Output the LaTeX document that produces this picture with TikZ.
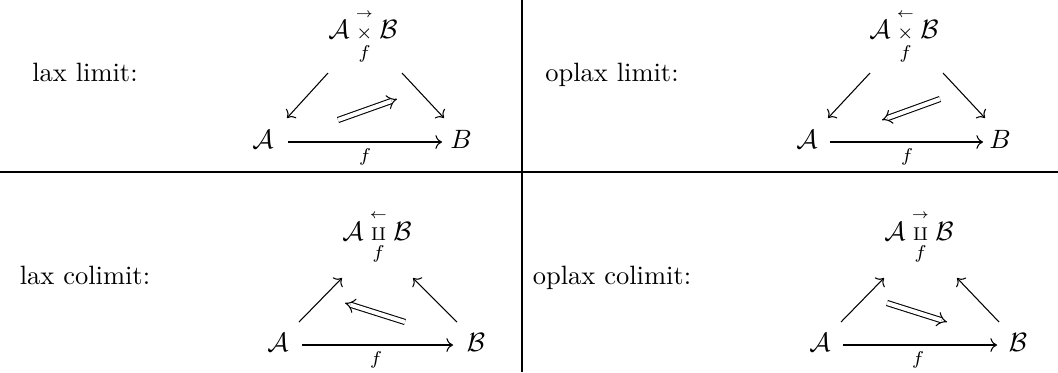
\documentclass[tikz,border=0pt]{standalone}
\usepackage{amsmath}
\usetikzlibrary{arrows.meta,calc}
\newcommand{\decop}[2]{\mathbin{\underset{\raisebox{-1pt}{$\scriptstyle f$}}{\overset{\raisebox{1.5pt}{$\scriptscriptstyle #1$}}{\scriptstyle #2}}}}
\begin{document}
\begin{tikzpicture}[x=0.3774pt,y=-0.3774pt,
  lbl/.style={anchor=base,inner sep=0pt},
  obj/.style={anchor=base,inner sep=0pt},
  mor/.style={-{Computer Modern Rightarrow},line width=0.4pt},
  twocell/.style={double equal sign distance,-{Implies},line width=0.4pt},
  rulestyle/.style={line width=0.45pt}]
\useasboundingbox (0,0) rectangle (1058,372);
% table rules
\coordinate (hl) at (0,172);
\coordinate (hr) at (1058,172);
\coordinate (vt) at (522,0);
\coordinate (vb) at (522,372);
\draw[rulestyle] (hl) -- (hr);
\draw[rulestyle] (vt) -- (vb);
% labels
\node[lbl] (l1) at (85,81) {lax limit:};
\node[lbl] (l2) at (612,81) {oplax limit:};
\node[lbl] (l3) at (85,284) {lax colimit:};
\node[lbl] (l4) at (612,284) {oplax colimit:};
% top left: lax limit
\node[obj] (tlP) at (363,38) {$\mathcal{A}\decop{\rightarrow}{\times}\mathcal{B}$};
\node[obj] (tlA) at (263,148) {$\mathcal{A}$};
\node[obj] (tlB) at (461,148) {$B$};
\node[obj] (tlf) at (365,161) {$\scriptstyle f$};
\draw[mor] ($(tlA.base)+(25,-6)$) -- ($(tlB.base)+(-19,-6)$);
\draw[mor] ($(tlP.base)+(-35,35)$) -- ($(tlA.base)+(24,-30)$);
\draw[mor] ($(tlP.base)+(39,35)$) -- ($(tlB.base)+(-17,-30)$);
\draw[twocell] ($(tlA.base)+(75,-28)$) -- ($(tlA.base)+(134,-49)$);
% top right: oplax limit
\node[obj] (trP) at (904,38) {$\mathcal{A}\decop{\leftarrow}{\times}\mathcal{B}$};
\node[obj] (trA) at (807,148) {$\mathcal{A}$};
\node[obj] (trB) at (1000,148) {$B$};
\node[obj] (trf) at (907,161) {$\scriptstyle f$};
\draw[mor] ($(trA.base)+(23,-6)$) -- ($(trB.base)+(-17,-6)$);
\draw[mor] ($(trP.base)+(-34,35)$) -- ($(trA.base)+(21,-30)$);
\draw[mor] ($(trP.base)+(39,35)$) -- ($(trB.base)+(-15,-30)$);
\draw[twocell] ($(trA.base)+(133,-49)$) -- ($(trA.base)+(75,-28)$);
% bottom left: lax colimit
\node[obj] (blP) at (377,240) {$\mathcal{A}\decop{\leftarrow}{\amalg}\mathcal{B}$};
\node[obj] (blA) at (278,351) {$\mathcal{A}$};
\node[obj] (blB) at (476,351) {$\mathcal{B}$};
\node[obj] (blf) at (376,364) {$\scriptstyle f$};
\draw[mor] ($(blA.base)+(24,-6)$) -- ($(blB.base)+(-23,-6)$);
\draw[mor] ($(blA.base)+(21,-29)$) -- ($(blP.base)+(-35,38)$);
\draw[mor] ($(blB.base)+(-19,-29)$) -- ($(blP.base)+(36,38)$);
\draw[twocell] ($(blA.base)+(127,-29)$) -- ($(blA.base)+(67,-48)$);
% bottom right: oplax colimit
\node[obj] (brP) at (919,240) {$\mathcal{A}\decop{\rightarrow}{\amalg}\mathcal{B}$};
\node[obj] (brA) at (820,351) {$\mathcal{A}$};
\node[obj] (brB) at (1018,351) {$\mathcal{B}$};
\node[obj] (brf) at (918,364) {$\scriptstyle f$};
\draw[mor] ($(brA.base)+(23,-6)$) -- ($(brB.base)+(-21,-6)$);
\draw[mor] ($(brA.base)+(21,-29)$) -- ($(brP.base)+(-35,38)$);
\draw[mor] ($(brB.base)+(-19,-29)$) -- ($(brP.base)+(38,38)$);
\draw[twocell] ($(brA.base)+(67,-48)$) -- ($(brA.base)+(127,-29)$);
\end{tikzpicture}
\end{document}
